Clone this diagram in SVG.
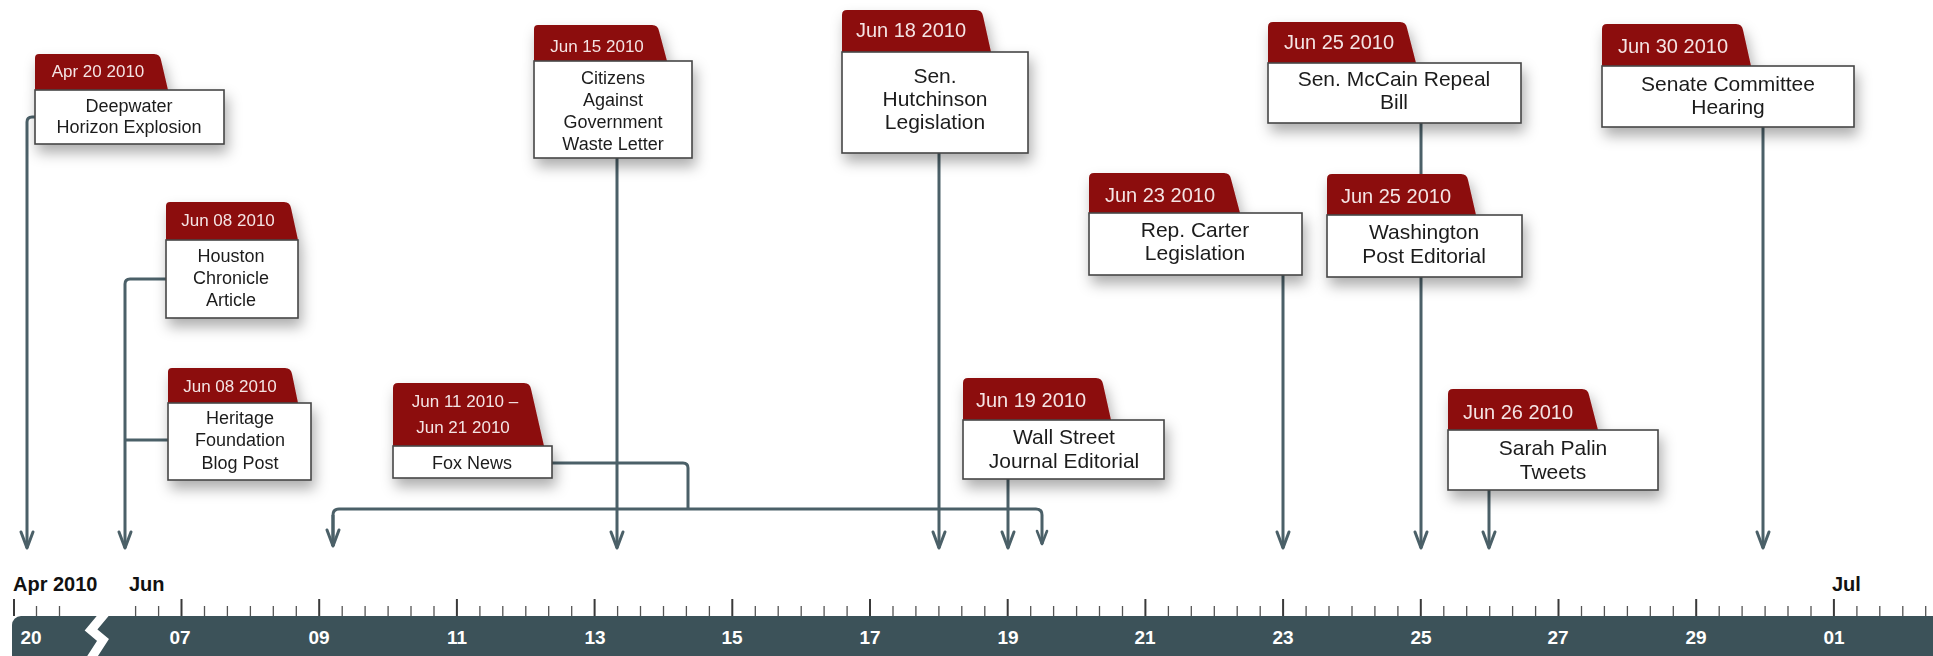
<svg xmlns="http://www.w3.org/2000/svg" width="1933" height="656" viewBox="0 0 1933 656">
<defs>
<style>
.tab{fill:#8c0c0c;}
.box{fill:#fff;stroke:#474747;stroke-width:1.6;}
.dt{font-family:"Liberation Sans",Arial,sans-serif;fill:#f4e4e4;text-anchor:middle;}
.tx{font-family:"Liberation Sans",Arial,sans-serif;fill:#1c1c1c;text-anchor:middle;}
.s{font-size:18px;}
.b{font-size:21px;}
.con{fill:none;stroke:#4b6068;stroke-width:3;stroke-linejoin:round;}
.ax{font-family:"Liberation Sans",Arial,sans-serif;font-weight:bold;}
.tl{font-family:"Liberation Sans",Arial,sans-serif;font-weight:bold;font-size:19px;fill:#fff;text-anchor:middle;}
</style>
<filter id="sh" x="-20%" y="-20%" width="150%" height="170%">
<feDropShadow dx="3" dy="8" stdDeviation="7" flood-color="#000" flood-opacity="0.32"/>
</filter>
<marker id="arr" markerUnits="userSpaceOnUse" markerWidth="20" markerHeight="20" viewBox="-20 -10 20 20" refX="0" refY="0" orient="auto" overflow="visible">
<path d="M-16,-6 L0,0 L-16,6" fill="none" stroke="#4b6068" stroke-width="3" stroke-linejoin="round" stroke-linecap="round"/>
</marker>
<marker id="arrs" markerUnits="userSpaceOnUse" markerWidth="20" markerHeight="20" viewBox="-20 -10 20 20" refX="0" refY="0" orient="auto" overflow="visible">
<path d="M-13,-5 L0,0 L-13,5" fill="none" stroke="#4b6068" stroke-width="2.6" stroke-linejoin="round" stroke-linecap="round"/>
</marker>
</defs>
<rect width="1933" height="656" fill="#fff"/>

<g id="connectors">
<path class="con" d="M35,117 H32 Q27,117 27,122 V548" marker-end="url(#arr)"/>
<path class="con" d="M166,279 H130 Q125,279 125,284 V548" marker-end="url(#arr)"/>
<path class="con" d="M168,440 H125"/>
<path class="con" d="M617,158 V548" marker-end="url(#arr)"/>
<path class="con" d="M552,463 H683 Q688,463 688,468 V509"/>
<path class="con" d="M333,546 V515 Q333,509 339,509 H1036 Q1042,509 1042,515 V544" marker-end="url(#arrs)"/>
<path class="con" d="M333,515 V546" marker-end="url(#arr)"/>
<path class="con" d="M939,153 V548" marker-end="url(#arr)"/>
<path class="con" d="M1008,479 V548" marker-end="url(#arr)"/>
<path class="con" d="M1283,275 V548" marker-end="url(#arr)"/>
<path class="con" d="M1421,123 V548" marker-end="url(#arr)"/>
<path class="con" d="M1489,490 V548" marker-end="url(#arr)"/>
<path class="con" d="M1763,127 V548" marker-end="url(#arr)"/>
</g>

<g id="n-deepwater" filter="url(#sh)">
<path class="tab" d="M35,90 V58 Q35,54 39,54 H154 Q160,54 161,60 L168,90 Z"/>
<rect class="box" x="35" y="90" width="189" height="54"/>
<text class="dt" x="98" y="77" font-size="17">Apr 20 2010</text>
<text class="tx s" x="129" y="112">Deepwater</text>
<text class="tx s" x="129" y="133">Horizon Explosion</text>
</g>

<g id="n-houston" filter="url(#sh)">
<path class="tab" d="M166,240 V206 Q166,202 170,202 H284 Q290,202 291,208 L298,240 Z"/>
<rect class="box" x="166" y="240" width="132" height="78"/>
<text class="dt" x="228" y="226" font-size="17">Jun 08 2010</text>
<text class="tx s" x="231" y="262">Houston</text>
<text class="tx s" x="231" y="284">Chronicle</text>
<text class="tx s" x="231" y="306">Article</text>
</g>

<g id="n-heritage" filter="url(#sh)">
<path class="tab" d="M168,403 V372 Q168,368 172,368 H285 Q291,368 292,374 L298,403 Z"/>
<rect class="box" x="168" y="403" width="143" height="77"/>
<text class="dt" x="230" y="392" font-size="17">Jun 08 2010</text>
<text class="tx s" x="240" y="424">Heritage</text>
<text class="tx s" x="240" y="446">Foundation</text>
<text class="tx s" x="240" y="469">Blog Post</text>
</g>

<g id="n-citizens" filter="url(#sh)">
<path class="tab" d="M534,61 V29 Q534,25 538,25 H652 Q658,25 659,31 L667,61 Z"/>
<rect class="box" x="534" y="61" width="158" height="97"/>
<text class="dt" x="597" y="52" font-size="17">Jun 15 2010</text>
<text class="tx s" x="613" y="84">Citizens</text>
<text class="tx s" x="613" y="106">Against</text>
<text class="tx s" x="613" y="128">Government</text>
<text class="tx s" x="613" y="150">Waste Letter</text>
</g>

<g id="n-fox" filter="url(#sh)">
<path class="tab" d="M393,446 V388 Q393,383 398,383 H524 Q530,383 531,389 L544,446 Z"/>
<rect class="box" x="393" y="446" width="159" height="32"/>
<text class="dt" x="465" y="407" font-size="17">Jun 11 2010 –</text>
<text class="dt" x="463" y="433" font-size="17">Jun 21 2010</text>
<text class="tx s" x="472" y="469">Fox News</text>
</g>

<g id="n-hutchinson" filter="url(#sh)">
<path class="tab" d="M842,52 V15 Q842,10 847,10 H976 Q982,10 983,16 L991,52 Z"/>
<rect class="box" x="842" y="52" width="186" height="101"/>
<text class="dt" x="911" y="37" font-size="20">Jun 18 2010</text>
<text class="tx b" x="935" y="83">Sen.</text>
<text class="tx b" x="935" y="106">Hutchinson</text>
<text class="tx b" x="935" y="129">Legislation</text>
</g>

<g id="n-wsj" filter="url(#sh)">
<path class="tab" d="M963,420 V383 Q963,378 968,378 H1096 Q1102,378 1103,384 L1111,420 Z"/>
<rect class="box" x="963" y="420" width="201" height="59"/>
<text class="dt" x="1031" y="407" font-size="20">Jun 19 2010</text>
<text class="tx b" x="1064" y="444">Wall Street</text>
<text class="tx b" x="1064" y="468">Journal Editorial</text>
</g>

<g id="n-carter" filter="url(#sh)">
<path class="tab" d="M1089,213 V178 Q1089,173 1094,173 H1224 Q1230,173 1231,179 L1240,213 Z"/>
<rect class="box" x="1089" y="213" width="213" height="62"/>
<text class="dt" x="1160" y="202" font-size="20">Jun 23 2010</text>
<text class="tx b" x="1195" y="237">Rep. Carter</text>
<text class="tx b" x="1195" y="260">Legislation</text>
</g>

<g id="n-mccain" filter="url(#sh)">
<path class="tab" d="M1268,63 V27 Q1268,22 1273,22 H1400 Q1406,22 1407,28 L1416,63 Z"/>
<rect class="box" x="1268" y="63" width="253" height="60"/>
<text class="dt" x="1339" y="49" font-size="20">Jun 25 2010</text>
<text class="tx b" x="1394" y="86">Sen. McCain Repeal</text>
<text class="tx b" x="1394" y="109">Bill</text>
</g>

<g id="n-washington" filter="url(#sh)">
<path class="tab" d="M1327,215 V179 Q1327,174 1332,174 H1461 Q1467,174 1468,180 L1476,215 Z"/>
<rect class="box" x="1327" y="215" width="195" height="62"/>
<text class="dt" x="1396" y="203" font-size="20">Jun 25 2010</text>
<text class="tx b" x="1424" y="239">Washington</text>
<text class="tx b" x="1424" y="263">Post Editorial</text>
</g>

<g id="n-palin" filter="url(#sh)">
<path class="tab" d="M1448,430 V394 Q1448,389 1453,389 H1582 Q1588,389 1589,395 L1598,430 Z"/>
<rect class="box" x="1448" y="430" width="210" height="60"/>
<text class="dt" x="1518" y="419" font-size="20">Jun 26 2010</text>
<text class="tx b" x="1553" y="455">Sarah Palin</text>
<text class="tx b" x="1553" y="479">Tweets</text>
</g>

<g id="n-senate" filter="url(#sh)">
<path class="tab" d="M1602,66 V29 Q1602,24 1607,24 H1736 Q1742,24 1743,30 L1751,66 Z"/>
<rect class="box" x="1602" y="66" width="252" height="61"/>
<text class="dt" x="1673" y="53" font-size="20">Jun 30 2010</text>
<text class="tx b" x="1728" y="91">Senate Committee</text>
<text class="tx b" x="1728" y="114">Hearing</text>
</g>

<g id="axis">
<text class="ax" x="13" y="591" font-size="20" fill="#111">Apr 2010</text>
<text class="ax" x="129" y="591" font-size="20" fill="#111">Jun</text>
<text class="ax" x="1832" y="591" font-size="20" fill="#111">Jul</text>
<rect x="12" y="616" width="1940" height="48" rx="9" fill="#3c5259"/>
<path d="M106,612 L91,630 L103,640 L90,660" fill="none" stroke="#fff" stroke-width="9" stroke-linejoin="miter"/>
<path d="M14,599V616M181.5,599V616M319.2,599V616M456.9,599V616M594.6,599V616M732.3,599V616M870,599V616M1007.7,599V616M1145.4,599V616M1283.1,599V616M1420.8,599V616M1558.5,599V616M1696.2,599V616M1833.9,599V616" stroke="#3a3a3a" stroke-width="2"/>
<path d="M36.5,606V616M59.5,606V616M135.6,606V616M158.6,606V616M204.5,606V616M227.4,606V616M250.4,606V616M273.3,606V616M296.3,606V616M342.2,606V616M365.1,606V616M388.1,606V616M411,606V616M434,606V616M479.9,606V616M502.8,606V616M525.8,606V616M548.7,606V616M571.7,606V616M617.6,606V616M640.5,606V616M663.5,606V616M686.4,606V616M709.4,606V616M755.3,606V616M778.2,606V616M801.2,606V616M824.1,606V616M847.1,606V616M893,606V616M915.9,606V616M938.9,606V616M961.8,606V616M984.8,606V616M1030.7,606V616M1053.6,606V616M1076.6,606V616M1099.5,606V616M1122.5,606V616M1168.4,606V616M1191.3,606V616M1214.3,606V616M1237.2,606V616M1260.2,606V616M1306.1,606V616M1329,606V616M1352,606V616M1374.9,606V616M1397.9,606V616M1443.8,606V616M1466.7,606V616M1489.7,606V616M1512.6,606V616M1535.6,606V616M1581.5,606V616M1604.4,606V616M1627.4,606V616M1650.3,606V616M1673.3,606V616M1719.2,606V616M1742.1,606V616M1765.1,606V616M1788,606V616M1811,606V616M1856.9,606V616M1879.8,606V616M1902.8,606V616M1925.7,606V616" stroke="#555" stroke-width="1.3"/>
<text class="tl" x="31" y="644">20</text>
<text class="tl" x="180" y="644">07</text>
<text class="tl" x="319" y="644">09</text>
<text class="tl" x="457" y="644">11</text>
<text class="tl" x="595" y="644">13</text>
<text class="tl" x="732" y="644">15</text>
<text class="tl" x="870" y="644">17</text>
<text class="tl" x="1008" y="644">19</text>
<text class="tl" x="1145" y="644">21</text>
<text class="tl" x="1283" y="644">23</text>
<text class="tl" x="1421" y="644">25</text>
<text class="tl" x="1558" y="644">27</text>
<text class="tl" x="1696" y="644">29</text>
<text class="tl" x="1834" y="644">01</text>
</g>
</svg>
